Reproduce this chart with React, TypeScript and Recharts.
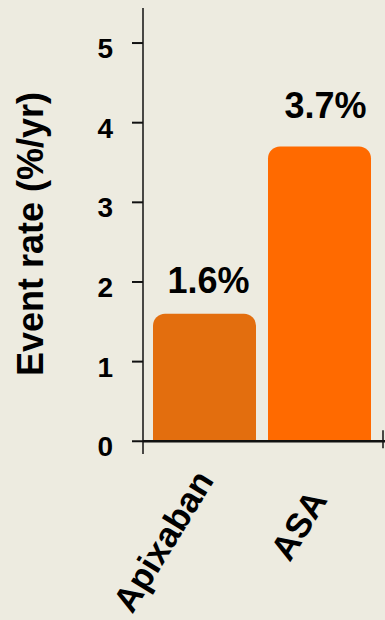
import React from 'react';
import * as R from 'recharts';

const { BarChart, Bar, XAxis, YAxis, ReferenceLine, LabelList, Cell } = R;

// Annual event rates per treatment arm
const treatments = ['Apixaban', 'ASA'];
const eventRates = [1.6, 3.7];
const rateTicks = [0, 1, 2, 3, 4, 5];
const barColors = ['#E36E0E', '#FF6A00'];

const chartData = treatments.map((name, i) => ({ name, rate: eventRates[i] }));

const Y_DOMAIN: [number, number] = [-0.16, 5.44];
const BG = '#EDEBE0';
const INK = '#111111';
const FONT = '"Liberation Sans", Arial, Helvetica, sans-serif';

// per-category placement tweaks for rotated category labels and value labels
const catLabelShift = [
  { dx: -31, dy: 93.5 },
  { dx: -10.5, dy: 77.5 },
];
const valueLabelShift = [
  { dx: 4, dy: -20.5 },
  { dx: 6, dy: -29 },
];

const YTick = (props: any) => {
  const { x, y, payload } = props;
  return (
    <text x={x} y={y + 15} textAnchor="end" fontFamily={FONT} fontWeight="bold" fontSize={28} fill="#000">
      {payload.value}
    </text>
  );
};

const XTick = (props: any) => {
  const { x, y, payload, index } = props;
  const s = catLabelShift[index] || { dx: 0, dy: 0 };
  const px = x + s.dx;
  const py = y + s.dy;
  return (
    <text
      x={px}
      y={py}
      textAnchor="middle"
      transform={`rotate(-58.5 ${px} ${py})`}
      fontFamily={FONT}
      fontWeight="bold"
      fontSize={35}
      fill="#000"
    >
      {payload.value}
    </text>
  );
};

const ValueLabel = (props: any) => {
  const { x, y, width, value, index } = props;
  const s = valueLabelShift[index] || { dx: 0, dy: -20 };
  return (
    <text
      x={x + width / 2 + s.dx}
      y={y + s.dy}
      textAnchor="middle"
      fontFamily={FONT}
      fontWeight="bold"
      fontSize={36}
      fill="#000"
    >
      {`${value}%`}
    </text>
  );
};

const AxisTitle = (props: any) => {
  const vb = props.viewBox || { x: 0, y: 0, width: 0, height: 0 };
  const cx = vb.x + 43;
  const cy = vb.y + vb.height / 2 + 3;
  return (
    <text
      x={cx}
      y={cy}
      textAnchor="middle"
      transform={`rotate(-90 ${cx} ${cy})`}
      fontFamily={FONT}
      fontWeight="bold"
      fontSize={36}
      fill="#000"
    >
      Event rate (%/yr)
    </text>
  );
};

// small cross mark where the baseline meets the right edge of the plot
const BaselineEnd = () => {
  const usePlotArea = (R as any).usePlotArea;
  const area = usePlotArea ? usePlotArea() : null;
  if (!area) return null;
  const [lo, hi] = Y_DOMAIN;
  const y0 = area.y + (area.height * (hi - 0)) / (hi - lo);
  const xr = area.x + area.width;
  return (
    <g>
      <line x1={xr} x2={xr + 4} y1={y0} y2={y0} stroke={INK} strokeWidth={2.5} />
      <line x1={xr} x2={xr} y1={y0 - 11} y2={y0 + 7} stroke={INK} strokeWidth={1.5} />
    </g>
  );
};

export default function App() {
  return (
    <div style={{ position: 'absolute', left: 0, top: 0, width: 385, height: 620, background: BG }}>
      <BarChart
        width={385}
        height={620}
        data={chartData}
        margin={{ top: 8, right: 2, left: 0, bottom: 0 }}
      >
        <XAxis
          dataKey="name"
          height={166}
          padding={{ left: 4, right: 6 }}
          axisLine={false}
          tickLine={false}
          tickSize={0}
          tickMargin={0}
          interval={0}
          tick={<XTick />}
        />
        <YAxis
          width={143}
          type="number"
          domain={Y_DOMAIN}
          ticks={rateTicks}
          allowDataOverflow
          tickSize={11}
          tickMargin={19}
          tickLine={{ stroke: INK, strokeWidth: 2 }}
          axisLine={{ stroke: INK, strokeWidth: 1.5 }}
          tick={<YTick />}
          label={<AxisTitle />}
        />
        <Bar dataKey="rate" barSize={103} radius={[12, 12, 0, 0]} isAnimationActive={false}>
          {chartData.map((d, i) => (
            <Cell key={d.name} fill={barColors[i]} />
          ))}
          <LabelList dataKey="rate" content={<ValueLabel />} />
        </Bar>
        <ReferenceLine y={0} stroke={INK} strokeWidth={2.5} />
        <BaselineEnd />
      </BarChart>
    </div>
  );
}
